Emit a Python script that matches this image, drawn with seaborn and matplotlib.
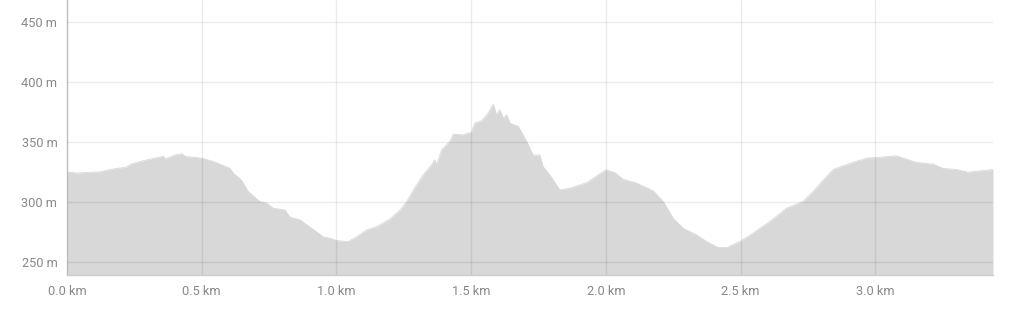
import matplotlib
matplotlib.use("Agg")
import matplotlib.pyplot as plt
import seaborn as sns
import pandas as pd

dist_km = [0.000, 0.036, 0.122, 0.160, 0.220, 0.240, 0.296, 0.357, 0.365, 0.400,
           0.426, 0.440, 0.500, 0.543, 0.605, 0.617, 0.648, 0.673, 0.716, 0.741,
           0.766, 0.809, 0.827, 0.865, 0.902, 0.951, 0.988, 1.000, 1.044, 1.075,
           1.112, 1.149, 1.199, 1.236, 1.260, 1.291, 1.322, 1.353, 1.365, 1.372,
           1.390, 1.421, 1.434, 1.470, 1.501, 1.514, 1.539, 1.563, 1.582, 1.594,
           1.607, 1.619, 1.632, 1.644, 1.675, 1.693, 1.706, 1.730, 1.755, 1.767,
           1.792, 1.829, 1.866, 1.929, 1.966, 2.000, 2.033, 2.064, 2.114, 2.176,
           2.213, 2.250, 2.287, 2.337, 2.374, 2.417, 2.448, 2.497, 2.547, 2.571,
           2.608, 2.670, 2.732, 2.769, 2.806, 2.844, 2.905, 2.967, 3.017, 3.079,
           3.153, 3.215, 3.252, 3.302, 3.344, 3.437]
elev_m = [325, 324, 325, 327, 329, 331.7, 335, 338, 335.8, 339,
          340, 337.8, 336.4, 333.6, 328, 324, 318, 308.6, 300.3, 299,
          294.7, 293.3, 287.5, 285, 279, 271, 269, 267.8, 267, 271,
          276.7, 279.4, 285.8, 293.3, 300, 312, 322.5, 330.8, 335, 331,
          343.3, 350.3, 356.4, 355.8, 358, 365.6, 367.5, 373.9, 381.4, 372.5,
          376.7, 369.7, 372.5, 365.6, 362.8, 355.8, 350.3, 339, 339, 329.4,
          322.5, 310, 311.4, 316, 321.7, 326.7, 324.4, 318.9, 315.6, 309.2,
          300.3, 286.4, 278, 272.5, 267, 262, 262, 267, 274, 278,
          283.6, 294.7, 300.3, 308.6, 318, 327, 332, 336.4, 337.2, 338.3,
          332.8, 331.4, 327.8, 327, 324.7, 327]

x_ticks = [0.0, 0.5, 1.0, 1.5, 2.0, 2.5, 3.0]
x_labels = ["0.0 km", "0.5 km", "1.0 km", "1.5 km", "2.0 km", "2.5 km", "3.0 km"]
y_ticks = [250, 300, 350, 400, 450]
y_labels = ["250 m", "300 m", "350 m", "400 m", "450 m"]

df = pd.DataFrame({"dist": dist_km, "elev": elev_m})

sns.set_theme(style="white")
plt.rcParams['font.family'] = ['Roboto', 'DejaVu Sans']

fig = plt.figure(figsize=(10.21, 3.12), dpi=100)
ax = fig.add_axes([67 / 1021, 37 / 312, (993 - 67) / 1021, 275 / 312])

y_min, y_max = 239.2, 468
ax.fill_between(df["dist"], y_min, df["elev"], color="#d8d8d8", linewidth=0, zorder=1)
sns.lineplot(data=df, x="dist", y="elev", ax=ax, color="#d8d8d8", linewidth=0.6, zorder=2)

ax.set_xlim(0, dist_km[-1])
ax.set_ylim(y_min, y_max)
ax.set_xticks(x_ticks)
ax.set_xticklabels(x_labels)
ax.set_yticks(y_ticks)
ax.set_yticklabels(y_labels)
ax.set_xticks([0, dist_km[-1]], minor=True)
ax.set_yticks([y_min], minor=True)

ax.grid(True, which="major", color="black", alpha=0.08, linewidth=1.0, zorder=3)
ax.set_axisbelow(False)
for line in ax.get_xgridlines() + ax.get_ygridlines():
    line.set_zorder(3)

ax.tick_params(axis="both", which="major", length=0, labelsize=9.2, labelcolor="#888888")
ax.tick_params(axis="x", which="major", pad=7.5)
ax.tick_params(axis="y", which="major", pad=7)
ax.tick_params(axis="x", which="minor", length=6, width=1, color="#cccccc", direction="out")
ax.tick_params(axis="y", which="minor", length=6, width=1, color="#cccccc", direction="out")

for side in ["top", "right"]:
    ax.spines[side].set_visible(False)
ax.spines["left"].set_color("#cccccc")
ax.spines["bottom"].set_color("#cccccc")
ax.spines["left"].set_linewidth(1)
ax.spines["bottom"].set_linewidth(1)
ax.set_xlabel("")
ax.set_ylabel("")

fig.savefig("out.png", dpi=100, facecolor="white")
